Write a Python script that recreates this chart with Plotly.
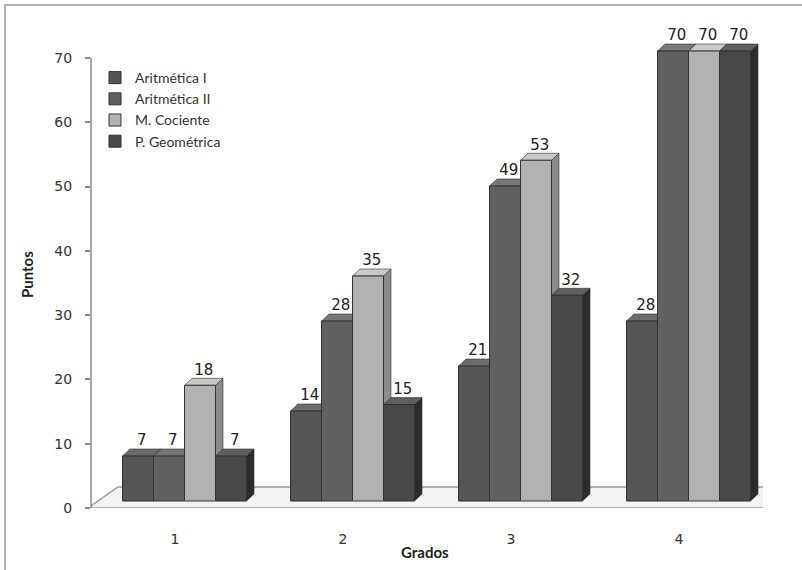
import plotly.graph_objects as go

# ---- data -------------------------------------------------------------
grados = ["1", "2", "3", "4"]
series = ["Aritmética I", "Aritmética II", "M. Cociente", "P. Geométrica"]
aritmetica_1 = [7, 14, 21, 28]
aritmetica_2 = [7, 28, 49, 70]
m_cociente = [18, 35, 53, 70]
p_geometrica = [7, 15, 32, 70]
valores = [aritmetica_1, aritmetica_2, m_cociente, p_geometrica]
y_ticks = [0, 10, 20, 30, 40, 50, 60, 70]

# ---- styling ----------------------------------------------------------
front_col = ["#555555", "#606060", "#b2b2b2", "#484848"]
side_col = ["#393939", "#424242", "#8c8c8c", "#2b2b2b"]
top_col = ["#6c6c6c", "#777777", "#c9c9c9", "#5f5f5f"]
edge_col = "#333333"

W, H = 802, 570
ML, MR, MT, MB = 91, 39, 40, 62
plot_w = W - ML - MR
plot_h = H - MT - MB
Y_MAX = 72.8
px_x = plot_w / 4.0          # pixels per category
px_y = plot_h / Y_MAX        # pixels per point

# pseudo-3D geometry (in axis units)
shift_x = 9.5 / px_x         # bars stand in front of the back wall
shift_y = 7.0 / px_y
depth_x = 7.5 / px_x         # bar depth
depth_y = 7.0 / px_y
bar_w = 31.0 / px_x
floor_dx = 30.0 / px_x       # floor depth
floor_dy = 21.0 / px_y

xr_main = [0.5, 4.5]
yr_main = [0, Y_MAX]
xr_bars = [0.5 - shift_x, 4.5 - shift_x]
yr_bars = [-shift_y, Y_MAX - shift_y]

fig = go.Figure()

centers = []
for i in range(len(series)):
    centers.append([g + 1 + (i - 1.5) * bar_w for g in range(len(grados))])

# side and top faces (drawn under the front faces)
for i, vals in enumerate(valores):
    sx, sy, tx, ty = [], [], [], []
    for xc, v in zip(centers[i], vals):
        xl, xr = xc - bar_w / 2, xc + bar_w / 2
        sx += [xr, xr + depth_x, xr + depth_x, xr, xr, None]
        sy += [0, depth_y, v + depth_y, v, 0, None]
        tx += [xl, xl + depth_x, xr + depth_x, xr, xl, None]
        ty += [v, v + depth_y, v + depth_y, v, v, None]
    fig.add_trace(go.Scatter(x=sx, y=sy, mode="lines", fill="toself",
                             fillcolor=side_col[i], line=dict(color=edge_col, width=0.6),
                             xaxis="x2", yaxis="y2", showlegend=False, hoverinfo="skip"))
    fig.add_trace(go.Scatter(x=tx, y=ty, mode="lines", fill="toself",
                             fillcolor=top_col[i], line=dict(color=edge_col, width=0.6),
                             xaxis="x2", yaxis="y2", showlegend=False, hoverinfo="skip"))

# front faces
for i, vals in enumerate(valores):
    fig.add_trace(go.Bar(x=centers[i], y=vals, width=bar_w, name=series[i],
                         legendgroup=series[i],
                         marker=dict(color=front_col[i], line=dict(color=edge_col, width=1)),
                         xaxis="x3", yaxis="y3"))

# value labels
for i, vals in enumerate(valores):
    fig.add_trace(go.Scatter(x=[c + depth_x / 2 for c in centers[i]],
                             y=[v + depth_y for v in vals],
                             text=[str(v) for v in vals], mode="text",
                             textposition="top center",
                             textfont=dict(family="DejaVu Sans", size=15, color="#222222"),
                             xaxis="x3", yaxis="y3", showlegend=False, hoverinfo="skip",
                             cliponaxis=False))

# floor plate
floor_x = [0.5 - 3 / px_x, 4.5 + 2 / px_x, 4.5 + 2 / px_x + floor_dx, 0.5 - 3 / px_x + floor_dx]
floor_y = [0, 0, floor_dy, floor_dy]
floor_path = "M {} {} L {} {} L {} {} L {} {} Z".format(
    floor_x[0], floor_y[0], floor_x[1], floor_y[1],
    floor_x[2], floor_y[2], floor_x[3], floor_y[3])

shapes = [
    dict(type="path", path=floor_path, xref="x", yref="y", layer="below",
         fillcolor="#f3f3f3", line=dict(color="#9a9a9a", width=1.5)),
    # value axis line
    dict(type="line", xref="paper", yref="y", x0=0, x1=0, y0=0, y1=70,
         line=dict(color="#8a8a8a", width=1.5)),
    # chart frame (left and top edges fall inside the page)
    dict(type="rect", xref="paper", yref="paper",
         x0=(5 - ML) / plot_w, x1=1.3, y0=-0.3,
         y1=((H - MB) - 5) / plot_h,
         line=dict(color="#9a9a9a", width=1.5), fillcolor="rgba(0,0,0,0)", layer="below"),
]

annotations = [
    dict(text="<b>Puntos</b>", xref="paper", yref="paper",
         x=(27 - ML) / plot_w, y=((H - MB) - 275) / plot_h, textangle=-90,
         showarrow=False, xanchor="center", yanchor="middle",
         font=dict(family="Lato", size=15, color="#222222")),
    dict(text="<b>Grados</b>", xref="paper", yref="paper",
         x=(425 - ML) / plot_w, y=((H - MB) - 552) / plot_h,
         showarrow=False, xanchor="center", yanchor="middle",
         font=dict(family="Lato", size=15, color="#222222")),
]

fig.update_layout(
    width=W, height=H,
    margin=dict(l=ML, r=MR, t=MT, b=MB),
    paper_bgcolor="white", plot_bgcolor="white",
    barmode="overlay",
    showlegend=True,
    legend=dict(x=(95 - ML) / plot_w, y=((H - MB) - 62) / plot_h,
                xanchor="left", yanchor="top", bgcolor="rgba(0,0,0,0)",
                font=dict(family="Lato", size=14, color="#333333"),
                tracegroupgap=3, traceorder="normal"),
    xaxis=dict(range=xr_main, tickvals=[1, 2, 3, 4], ticktext=grados,
               showgrid=False, zeroline=False, showline=False, ticks="",
               ticklabelstandoff=21,
               tickfont=dict(family="DejaVu Sans", size=14, color="#333333")),
    yaxis=dict(range=yr_main, tickvals=y_ticks, showgrid=False, zeroline=False,
               showline=False, ticks="outside", ticklen=5, tickcolor="#8a8a8a",
               tickwidth=1.5, ticklabelstandoff=10,
               tickfont=dict(family="DejaVu Sans", size=14, color="#333333")),
    xaxis2=dict(range=xr_bars, overlaying="x", anchor="y2", visible=False),
    yaxis2=dict(range=yr_bars, overlaying="y", anchor="x2", visible=False),
    xaxis3=dict(range=xr_bars, overlaying="x", anchor="y3", visible=False),
    yaxis3=dict(range=yr_bars, overlaying="y", anchor="x3", visible=False),
    shapes=shapes,
    annotations=annotations,
)

fig.write_html("out.html")
